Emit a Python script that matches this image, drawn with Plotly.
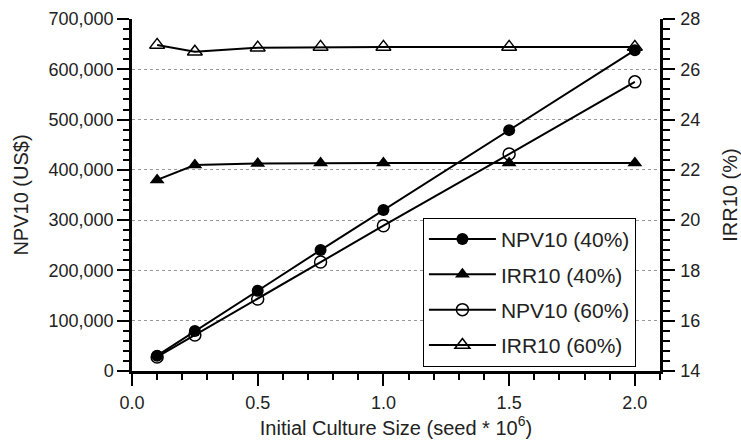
import plotly.graph_objects as go

x = [0.1, 0.25, 0.5, 0.75, 1.0, 1.5, 2.0]
npv40 = [30400, 79500, 159600, 240500, 320000, 479000, 638000]
irr40 = [21.6, 22.19, 22.25, 22.27, 22.27, 22.27, 22.27]
npv60 = [28000, 71600, 143000, 216700, 288900, 431400, 575000]
irr60 = [26.97, 26.70, 26.86, 26.89, 26.89, 26.89, 26.89]

FONT = "Liberation Sans, Arial, Helvetica, sans-serif"
fig = go.Figure()
line = dict(color="black", width=2)
fig.add_trace(go.Scatter(x=x, y=npv40, name="NPV10 (40%)", legendgroup="a", mode="lines+markers", line=line,
                         marker=dict(symbol="circle", size=12, color="black")))
fig.add_trace(go.Scatter(x=x, y=irr40, name="IRR10 (40%)", legendgroup="b", mode="lines+markers", line=line, yaxis="y2",
                         marker=dict(symbol="triangle-up", size=13, color="black")))
fig.add_trace(go.Scatter(x=x, y=npv60, name="NPV10 (60%)", legendgroup="c", mode="lines+markers", line=line,
                         marker=dict(symbol="circle-open", size=12, color="black", line=dict(width=1.5))))
fig.add_trace(go.Scatter(x=x, y=irr60, name="IRR10 (60%)", legendgroup="d", mode="lines+markers", line=line, yaxis="y2",
                         marker=dict(symbol="triangle-up-open", size=13, color="black", line=dict(width=1.5))))

tickfont = dict(size=18, color="#222")
titlefont = dict(size=20, color="#222")
fig.update_layout(
    width=741, height=441,
    margin=dict(l=132, r=81, t=19, b=70, autoexpand=False),
    paper_bgcolor="white", plot_bgcolor="white",
    font=dict(family=FONT, size=18, color="#222"),
    showlegend=True,
    legend=dict(x=0.551, y=0.435, xanchor="left", yanchor="top",
                bgcolor="white", bordercolor="black", borderwidth=1,
                font=dict(size=21, color="#222"), tracegroupgap=5, itemwidth=67),
    xaxis=dict(range=[0, 2.1], tickvals=[0, 0.5, 1.0, 1.5, 2.0], ticktext=["0.0", "0.5", "1.0", "1.5", "2.0"],
               ticks="outside", ticklen=12, tickwidth=2, tickcolor="black", tickfont=tickfont,
               ticklabelstandoff=2, automargin=False,
               minor=dict(dtick=0.1, ticks="outside", ticklen=6, tickwidth=1.5, tickcolor="black"),
               showline=True, linecolor="black", linewidth=2.5, showgrid=False, zeroline=False,
               title=dict(text="Initial Culture Size (seed * 10<sup>6</sup>)", standoff=6, font=titlefont)),
    yaxis=dict(range=[0, 700000], dtick=100000, tickformat=",d",
               ticks="outside", ticklen=12, tickwidth=2, tickcolor="black", tickfont=tickfont,
               ticklabelstandoff=0, automargin=False,
               minor=dict(dtick=20000, ticks="outside", ticklen=6, tickwidth=1.5, tickcolor="black", showgrid=False),
               showline=True, linecolor="black", linewidth=2.5,
               showgrid=True, gridcolor="#999", griddash="dot", gridwidth=1, zeroline=False,
               title=dict(text="NPV10 (US$)", standoff=15, font=titlefont)),
    yaxis2=dict(range=[14, 28], dtick=2, overlaying="y", side="right",
                ticks="outside", ticklen=12, tickwidth=2, tickcolor="black", tickfont=tickfont,
                ticklabelstandoff=2, automargin=False,
                minor=dict(dtick=0.4, ticks="outside", ticklen=7, tickwidth=1.5, tickcolor="black"),
                showline=True, linecolor="black", linewidth=2.5, showgrid=False, zeroline=False,
                title=dict(text="IRR10 (%)", standoff=25, font=titlefont)),
)
fig.write_html("out.html", config={"displayModeBar": False},
               post_script="document.body.style.margin='0';")
